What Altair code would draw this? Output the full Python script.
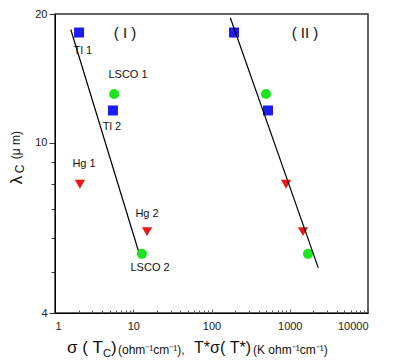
import altair as alt
import pandas as pd

# ---- data ----
groups = ["I", "I", "I", "I", "I", "I", "II", "II", "II", "II", "II", "II"]
samples = ["Tl", "Tl", "LSCO", "LSCO", "Hg", "Hg", "Tl", "Tl", "LSCO", "LSCO", "Hg", "Hg"]
sigma = [2.03, 5.5, 5.7, 12.9, 2.08, 15.0, 194, 527, 497, 1711, 896, 1477]
lam = [18.1, 11.9, 13.0, 5.5, 8.0, 6.2, 18.1, 11.9, 13.0, 5.5, 8.0, 6.2]

fit_id = ["I", "I", "II", "II"]
fit_x = [1.59, 11.6, 174, 2317]
fit_y = [18.4, 5.6, 19.6, 5.1]

label_text = ["Tl 1", "LSCO 1", "Tl 2", "Hg 1", "Hg 2", "LSCO 2"]
label_x = [2.28, 8.57, 5.35, 2.35, 15.0, 16.4]
label_y = [16.4, 14.4, 10.9, 8.9, 6.8, 5.09]

panel_text = ["( I )", "( II )"]
panel_x = [7.85, 1567]
panel_y = [18.1, 18.1]

x_major = [1, 10, 100, 1000, 10000]
x_minor = [m * d for d in [1, 10, 100, 1000] for m in range(1, 10)] + [10000]
y_ticks = [4, 5, 6, 7, 8, 9, 10, 20]

TOP = 14
W, H = 313, 313 - TOP
FONT = "Liberation Sans"

pts = pd.DataFrame({"group": groups, "sample": samples, "sigma": sigma, "lam": lam})
fit = pd.DataFrame({"id": fit_id, "x": fit_x, "y": fit_y})
labs = pd.DataFrame({"t": label_text, "x": label_x, "y": label_y})
pan = pd.DataFrame({"t": panel_text, "x": panel_x, "y": panel_y})

xs = alt.Scale(type="log", domain=[1, 10000], nice=False)
ys = alt.Scale(type="log", domain=[4, 20], nice=False)

x_bottom = alt.X("sigma:Q", scale=xs, title=None,
                 axis=alt.Axis(values=x_major, ticks=False, labelPadding=7,
                               format="d", labelFontSize=11, labelColor="#222",
                               domainColor="#000", grid=False))
y_axis = alt.Y("lam:Q", scale=ys, title=None,
               axis=alt.Axis(values=y_ticks, grid=False, labelFontSize=11, labelColor="#222",
                             labelExpr="(datum.value==4||datum.value==10||datum.value==20)?datum.label:''",
                             tickSize=alt.ExprRef(expr="(datum.value==4||datum.value==10||datum.value==20)?6:4"),
                             tickColor="#333", domainColor="#000", labelPadding=2))

color_scale = alt.Scale(domain=["Tl", "LSCO", "Hg"], range=["#1c1cf0", "#1ee61e", "#f01414"])
shape_scale = alt.Scale(domain=["Tl", "LSCO", "Hg"], range=["square", "circle", "triangle-down"])
size_scale = alt.Scale(domain=["Tl", "LSCO", "Hg"], range=[100, 105, 140])

points = alt.Chart(pts).mark_point(filled=True, opacity=1).encode(
    x=x_bottom, y=y_axis,
    color=alt.Color("sample:N", scale=color_scale, legend=None),
    shape=alt.Shape("sample:N", scale=shape_scale, legend=None),
    size=alt.Size("sample:N", scale=size_scale, legend=None),
)

lines = alt.Chart(fit).mark_line(color="black", strokeWidth=1.2).encode(
    x=alt.X("x:Q", scale=xs, axis=alt.Axis(orient="top", offset=-H, values=x_minor, labels=False,
                                           domain=False, grid=False, title=None, tickColor="#555",
                                           tickSize=alt.ExprRef(expr="indexof([1,10,100,1000,10000],datum.value)>=0?4:3"))),
    y=alt.Y("y:Q", scale=ys),
    detail="id:N",
)

labels = alt.Chart(labs).mark_text(font=FONT, fontSize=11, color="#111").encode(
    x=alt.X("x:Q", scale=xs, axis=None), y=alt.Y("y:Q", scale=ys), text="t:N")

panels = alt.Chart(pan).mark_text(font=FONT, fontSize=15, color="#111").encode(
    x=alt.X("x:Q", scale=xs, axis=None), y=alt.Y("y:Q", scale=ys), text="t:N")

# axis titles composed from text pieces (pixel offsets relative to plot origin at page (55,TOP))
def piece(txt, px, py, size, angle=0, align="left", baseline="alphabetic"):
    kw = dict(font=FONT, fontSize=size, color="#111", align=align, baseline=baseline)
    if angle:
        kw["angle"] = angle
    return alt.Chart(pd.DataFrame({"t": [txt]})).mark_text(**kw).encode(
        x=alt.value(px - 55), y=alt.value(py - TOP), text="t:N")

title_pieces = [
    piece("σ ( T", 67, 353, 17),
    piece("C", 103, 357, 11),
    piece(")", 111, 353, 17),
    piece("(ohm⁻¹cm⁻¹),", 118, 354, 12),
    piece("T*σ( T*)", 194, 353, 16),
    piece("(K ohm⁻¹cm⁻¹)", 253, 354, 12),
    piece("λ", 17, 180, 17, angle=270, align="center", baseline="middle"),
    piece("C", 20, 169, 12, angle=270, align="center", baseline="middle"),
    piece("(μ m)", 16, 145, 12, angle=270, align="center", baseline="middle"),
]

chart = alt.layer(points, lines, labels, panels, *title_pieces).resolve_axis(
    x="independent"
).properties(
    width=W, height=H,
    autosize=alt.AutoSizeParams(type="none"),
    padding={"left": 47, "top": TOP - 8, "right": 30, "bottom": 47},
).configure_view(
    stroke="#333", strokeWidth=1.5
).configure_axis(
    labelFont=FONT
)

chart.save("out.html", embed_options={"renderer": "svg", "actions": False})
